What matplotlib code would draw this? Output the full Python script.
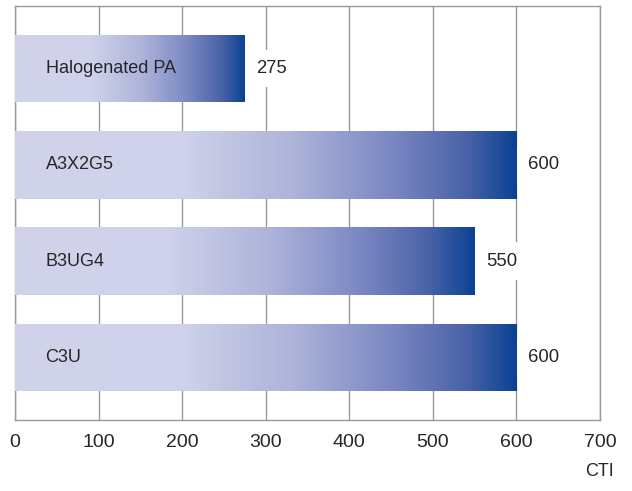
import numpy as np
import matplotlib
matplotlib.use("Agg")
import matplotlib.pyplot as plt
from matplotlib.colors import LinearSegmentedColormap

plt.rcParams['font.family'] = ['Liberation Sans', 'DejaVu Sans']

# CTI values per material
materials = ["Halogenated PA", "A3X2G5", "B3UG4", "C3U"]
cti_values = [275, 600, 550, 600]
x_ticks = [0, 100, 200, 300, 400, 500, 600, 700]
x_label = "CTI"

text_color = "#262626"
grid_color = "#9a9a9a"

# light lavender fading into deep blue at the end of each bar
bar_cmap = LinearSegmentedColormap.from_list(
    "bar_fade",
    [(0.00, "#d1d3eb"), (0.33, "#cfd2ea"), (0.55, "#aeb4da"),
     (0.75, "#7b88c2"), (0.90, "#4a63a8"), (1.00, "#0b4293")])

W, H = 632, 491
fig = plt.figure(figsize=(W / 100, H / 100), dpi=100)
ax = fig.add_axes([15 / W, (H - 420) / H, 585 / W, 414 / H])

bar_h = 0.70
gradient = np.linspace(0, 1, 512).reshape(1, -1)
ypos = np.arange(len(materials))

bars = ax.barh(ypos, cti_values, height=bar_h, color="none", edgecolor="none", zorder=3)
for y, v, patch in zip(ypos, cti_values, bars):
    im = ax.imshow(gradient, cmap=bar_cmap, aspect="auto", interpolation="bicubic",
                   extent=[0, v, y + bar_h / 2, y - bar_h / 2], zorder=3)
    im.set_clip_path(patch)
    ax.annotate(materials[y], xy=(0, y), xytext=(22, 0), textcoords="offset points",
                ha="left", va="center", fontsize=13, color=text_color, zorder=4)
    ax.annotate(str(v), xy=(v, y), xytext=(8, 0), textcoords="offset points",
                ha="left", va="center", fontsize=13.3, color=text_color, zorder=2.5,
                bbox=dict(boxstyle="square,pad=0.55", fc="white", ec="none"))

ax.set_xlim(0, 700)
ax.set_ylim(3.65, -0.65)

ax.set_xticks(x_ticks)
ax.set_xticklabels([str(t) for t in x_ticks])
ax.set_yticks([])
ax.tick_params(axis="x", length=0, pad=10, labelsize=14, labelcolor=text_color)
ax.xaxis.grid(True, color=grid_color, linewidth=1.0, zorder=1)
ax.set_axisbelow(True)
for s in ax.spines.values():
    s.set_color(grid_color)
    s.set_linewidth(1.0)

fig.text(614 / W, 1 - 471 / H, x_label, ha="right", va="center",
         fontsize=13, color=text_color)

fig.savefig("out.png", dpi=100)
